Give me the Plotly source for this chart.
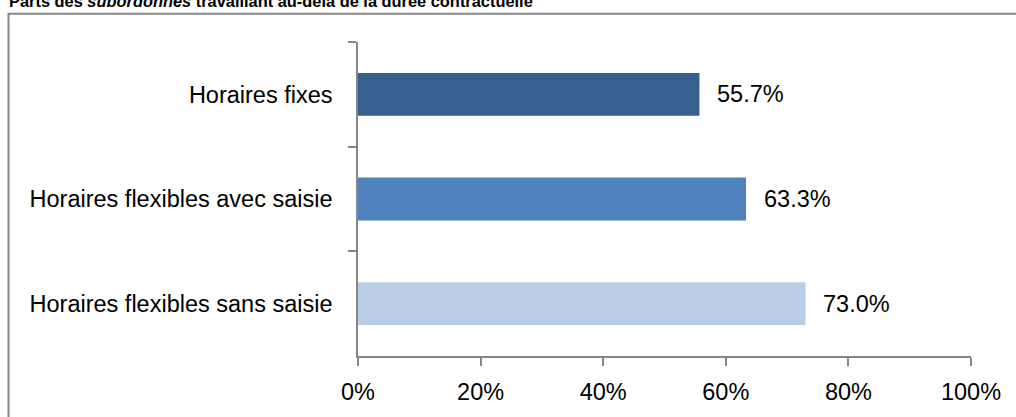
import plotly.graph_objects as go

categories = ["Horaires fixes", "Horaires flexibles avec saisie", "Horaires flexibles sans saisie"]
values = [0.557, 0.633, 0.730]
value_labels = ["55.7%", "63.3%", "73.0%"]
colors = ["#375F8F", "#4F81BD", "#B9CDE5"]
x_ticks = [0, 0.2, 0.4, 0.6, 0.8, 1.0]
x_tick_labels = ["0%", "20%", "40%", "60%", "80%", "100%"]

FONT = "Liberation Sans"
GRAY = "#868686"
FS = 23.5

fig = go.Figure()
fig.add_trace(go.Bar(
    x=values, y=categories, orientation="h",
    marker=dict(color=colors, line=dict(width=0)),
    width=0.41, hoverinfo="skip",
))

for v, c, t in zip(values, categories, value_labels):
    fig.add_annotation(x=v, y=c, text=t, showarrow=False, xanchor="left",
                       xshift=16, font=dict(family=FONT, size=FS, color="#000000"))

fig.update_layout(
    width=1016, height=417,
    margin=dict(l=358, r=45, t=42, b=59),
    paper_bgcolor="white", plot_bgcolor="white",
    showlegend=False,
    font=dict(family=FONT, size=FS, color="#000000"),
    xaxis=dict(range=[0, 1], tickvals=x_ticks, ticktext=x_tick_labels,
               showgrid=False, zeroline=False, showline=True, linecolor=GRAY, linewidth=1.5,
               ticks="outside", ticklen=8, tickcolor=GRAY, tickwidth=1.5,
               ticklabelstandoff=6, fixedrange=True),
    yaxis=dict(autorange="reversed", showgrid=False, zeroline=False, showline=True,
               linecolor=GRAY, linewidth=1.5, ticks="outside", ticklen=8, tickcolor=GRAY,
               tickwidth=1.5, tickson="boundaries", ticklabelstandoff=19, fixedrange=True),
)

# outer chart border
fig.add_shape(type="rect", xref="paper", yref="paper",
              x0=(8.5 - 358) / 613, x1=1.2, y0=-0.4, y1=(358 - 13.5) / 316,
              line=dict(color=GRAY, width=2), fillcolor="rgba(0,0,0,0)", layer="below")

fig.add_annotation(xref="paper", yref="paper", x=(7 - 358) / 613, y=(358 - 11.5) / 316,
                   xanchor="left", yanchor="bottom", showarrow=False,
                   text="<b>Parts des <i>subordonnés</i> travaillant au-delà de la durée contractuelle</b>",
                   font=dict(family=FONT, size=16.4, color="#000000"))

fig.write_html("out.html", config={"displayModeBar": False},
               post_script="document.body.style.margin='0';document.body.style.overflow='hidden';")
